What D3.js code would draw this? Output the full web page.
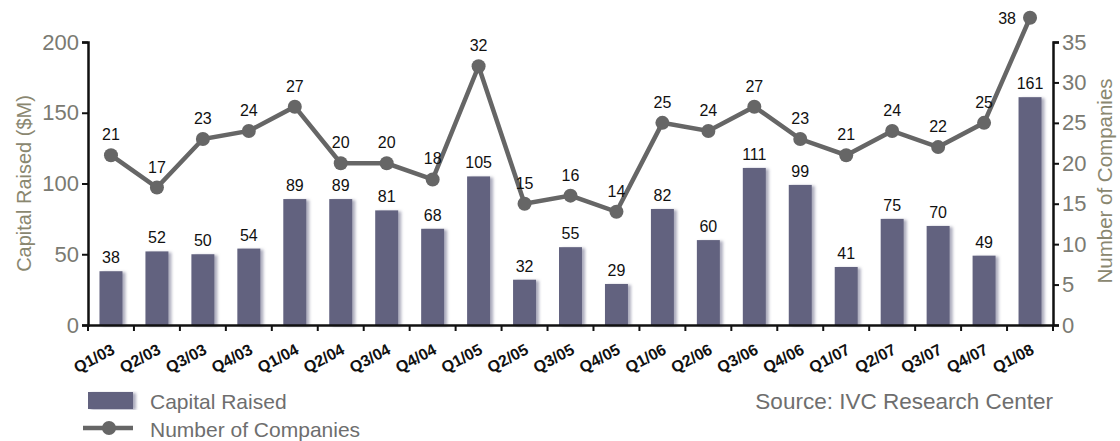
<!DOCTYPE html>
<html>
<head>
<meta charset="utf-8">
<script src="https://cdn.jsdelivr.net/npm/d3@7"></script>
<style>
  body { margin: 0; background: #fff; }
  text { font-family: Arial, "Liberation Sans", sans-serif; }
</style>
</head>
<body>
<div id="graph"></div>
<script>
// chart data
let quarters = ["Q1/03", "Q2/03", "Q3/03", "Q4/03", "Q1/04", "Q2/04", "Q3/04", "Q4/04",
  "Q1/05", "Q2/05", "Q3/05", "Q4/05", "Q1/06", "Q2/06", "Q3/06", "Q4/06",
  "Q1/07", "Q2/07", "Q3/07", "Q4/07", "Q1/08"];
let capitalRaised = [38, 52, 50, 54, 89, 89, 81, 68, 105, 32, 55, 29, 82, 60, 111, 99, 41, 75, 70, 49, 161];
let numCompanies = [21, 17, 23, 24, 27, 20, 20, 18, 32, 15, 16, 14, 25, 24, 27, 23, 21, 24, 22, 25, 38];
let leftTicks = [0, 50, 100, 150, 200];
let rightTicks = [0, 5, 10, 15, 20, 25, 30, 35];

let width = 1120, height = 441;
let plot = { left: 88, right: 1053, top: 42, bottom: 325 };

let barColor = "#62627f";
let lineColor = "#666666";
let axisText = "#7a7a72";

let svg = d3.select("#graph").append("svg")
  .attr("width", width).attr("height", height);

// soft shadow on the bars
let defs = svg.append("defs");
let filt = defs.append("filter").attr("id", "shadow")
  .attr("x", "-20%").attr("y", "-5%").attr("width", "160%").attr("height", "110%");
filt.append("feDropShadow").attr("dx", 3).attr("dy", 1).attr("stdDeviation", 1.5)
  .attr("flood-color", "#8888a0").attr("flood-opacity", 0.7);

// scales
let x = d3.scaleBand().domain(quarters).range([plot.left, plot.right]).paddingInner(0.5).paddingOuter(0.25);
let yL = d3.scaleLinear().domain([0, 200]).range([plot.bottom, plot.top]);
let yR = d3.scaleLinear().domain([0, 35]).range([plot.bottom, plot.top]);
let cx = d => x(d) + x.bandwidth() / 2;

// bars
svg.append("g").selectAll("rect")
  .data(capitalRaised)
  .join("rect")
  .attr("x", (d, i) => x(quarters[i]))
  .attr("y", d => yL(d))
  .attr("width", x.bandwidth())
  .attr("height", d => yL(0) - yL(d))
  .attr("fill", barColor)
  .attr("filter", "url(#shadow)");

// bar value labels
svg.append("g").selectAll("text")
  .data(capitalRaised)
  .join("text")
  .attr("x", (d, i) => cx(quarters[i]))
  .attr("y", d => yL(d) - 8)
  .attr("text-anchor", "middle")
  .attr("font-size", 16)
  .attr("fill", "#111")
  .text(d => d);

// axes
let xAxis = svg.append("g")
  .attr("transform", `translate(0,${plot.bottom})`)
  .call(d3.axisBottom(x).tickSize(0).tickFormat(""));
xAxis.select(".domain").attr("stroke", "#111").attr("stroke-width", 2.5);
// quarter boundary ticks
let bounds = d3.range(quarters.length + 1).map(i => plot.left + i * x.step());
xAxis.selectAll(".bound").data(bounds).join("line")
  .attr("x1", d => d).attr("x2", d => d).attr("y1", 0).attr("y2", 6)
  .attr("stroke", "#111").attr("stroke-width", 2);
// rotated bold tick labels
xAxis.selectAll(".qlab").data(quarters).join("text")
  .attr("transform", d => `translate(${cx(d) + 5},${28}) rotate(-28)`)
  .attr("text-anchor", "end")
  .attr("font-size", 16)
  .attr("font-weight", "bold")
  .attr("fill", "#111")
  .text(d => d);

let leftAxis = svg.append("g")
  .attr("transform", `translate(${plot.left},0)`)
  .call(d3.axisLeft(yL).tickValues(leftTicks).tickSize(6).tickPadding(3));
leftAxis.select(".domain").attr("stroke", "#111").attr("stroke-width", 2.5);
leftAxis.selectAll(".tick line").attr("stroke", "#111").attr("stroke-width", 2);
leftAxis.selectAll(".tick text").attr("font-size", 22).attr("fill", axisText);

let rightAxis = svg.append("g")
  .attr("transform", `translate(${plot.right},0)`)
  .call(d3.axisRight(yR).tickValues(rightTicks).tickSize(6).tickPadding(3));
rightAxis.select(".domain").attr("stroke", "#111").attr("stroke-width", 2.5);
rightAxis.selectAll(".tick line").attr("stroke", "#111").attr("stroke-width", 2);
rightAxis.selectAll(".tick text").attr("font-size", 22).attr("fill", axisText);

// axis titles
svg.append("text")
  .attr("transform", `translate(31,${(plot.top + plot.bottom) / 2}) rotate(-90)`)
  .attr("text-anchor", "middle")
  .attr("font-size", 20)
  .attr("fill", "#8a8770")
  .text("Capital Raised ($M)");
svg.append("text")
  .attr("transform", `translate(1112,181) rotate(-90)`)
  .attr("text-anchor", "middle")
  .attr("font-size", 20.5)
  .attr("fill", "#8a8770")
  .text("Number of Companies");

// companies line
let line = d3.line()
  .x((d, i) => cx(quarters[i]))
  .y(d => yR(d));
svg.append("path")
  .datum(numCompanies)
  .attr("d", line)
  .attr("fill", "none")
  .attr("stroke", lineColor)
  .attr("stroke-width", 4.5);
svg.append("g").selectAll("circle")
  .data(numCompanies)
  .join("circle")
  .attr("cx", (d, i) => cx(quarters[i]))
  .attr("cy", d => yR(d))
  .attr("r", 7)
  .attr("fill", lineColor);

// line value labels (last one sits to the left of its point)
let last = numCompanies.length - 1;
svg.append("g").selectAll("text")
  .data(numCompanies)
  .join("text")
  .attr("x", (d, i) => i === last ? cx(quarters[i]) - 14 : cx(quarters[i]))
  .attr("y", (d, i) => i === last ? yR(d) + 6 : yR(d) - 15)
  .attr("text-anchor", (d, i) => i === last ? "end" : "middle")
  .attr("font-size", 16)
  .attr("fill", "#111")
  .text(d => d);

// legend
let legend = svg.append("g");
legend.append("rect")
  .attr("x", 88).attr("y", 392).attr("width", 45).attr("height", 17)
  .attr("fill", barColor).attr("filter", "url(#shadow)");
legend.append("text")
  .attr("x", 150).attr("y", 409)
  .attr("font-size", 21).attr("fill", "#6e6e6e")
  .text("Capital Raised");
legend.append("line")
  .attr("x1", 83).attr("x2", 133).attr("y1", 428).attr("y2", 428)
  .attr("stroke", lineColor).attr("stroke-width", 4.5);
legend.append("circle")
  .attr("cx", 109).attr("cy", 428).attr("r", 7).attr("fill", lineColor);
legend.append("text")
  .attr("x", 150).attr("y", 437)
  .attr("font-size", 21).attr("fill", "#6e6e6e")
  .text("Number of Companies");

svg.append("text")
  .attr("x", 1053).attr("y", 409)
  .attr("text-anchor", "end")
  .attr("font-size", 22.5).attr("fill", "#6e6e6e")
  .text("Source: IVC Research Center");
</script>
</body>
</html>
